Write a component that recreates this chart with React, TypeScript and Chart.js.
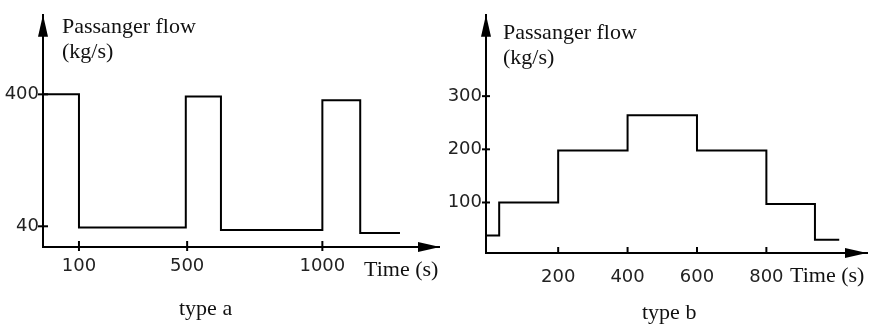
import React, { useEffect, useRef } from 'react';
import { Chart, registerables } from 'chart.js';

Chart.register(...registerables);

// ---- data: type a ----
const timeA = [-33, 100, 495, 625, 1000, 1140, 1287];
const flowA = [400, 37, 394, 30, 384, 22, 22];
const xTicksA = [100, 500, 1000];
const yTicksA = [40, 400];

// ---- data: type b ----
const timeB = [-8, 30, 200, 400, 600, 800, 940, 1010];
const flowB = [38, 100, 198, 264, 198, 97, 30, 30];
const xTicksB = [200, 400, 600, 800];
const yTicksB = [100, 200, 300];

const yTitle = ['Passanger flow', '(kg/s)'];
const xTitle = 'Time (s)';

const INK = '#111';
const TICK_INK = '#222';
const SERIF = '"Liberation Serif", "Times New Roman", serif';
const SANS = '"DejaVu Sans", sans-serif';

const decorPlugin = {
  id: 'decor',
  afterDraw(chart: any, _args: any, opts: any) {
    const ctx = chart.ctx;
    const area = chart.chartArea;
    const xs = chart.scales.x;
    const ys = chart.scales.y;
    ctx.save();
    ctx.strokeStyle = '#000';
    ctx.fillStyle = '#000';
    ctx.lineWidth = 2;
    // tick marks
    const axisY = area.bottom;
    const axisX = area.left;
    for (const t of xs.ticks) {
      const px = xs.getPixelForValue(t.value);
      ctx.beginPath();
      ctx.moveTo(px, axisY - opts.xTickIn);
      ctx.lineTo(px, axisY + opts.xTickOut);
      ctx.stroke();
    }
    for (const t of ys.ticks) {
      const py = ys.getPixelForValue(t.value);
      ctx.beginPath();
      ctx.moveTo(axisX - opts.yTickOut, py);
      ctx.lineTo(axisX + opts.yTickIn, py);
      ctx.stroke();
    }
    // arrows
    const L = 22, W = 5;
    ctx.beginPath();
    ctx.moveTo(axisX, area.top);
    ctx.lineTo(axisX - W, area.top + L);
    ctx.lineTo(axisX + W, area.top + L);
    ctx.closePath();
    ctx.fill();
    ctx.beginPath();
    ctx.moveTo(area.right, axisY);
    ctx.lineTo(area.right - L, axisY - W);
    ctx.lineTo(area.right - L, axisY + W);
    ctx.closePath();
    ctx.fill();
    // texts
    ctx.fillStyle = INK;
    ctx.font = '22px ' + SERIF;
    ctx.textAlign = 'left';
    ctx.textBaseline = 'alphabetic';
    ctx.fillText(yTitle[0], opts.yt[0], opts.yt[1]);
    ctx.fillText(yTitle[1], opts.yt[0], opts.yt[1] + 25);
    ctx.fillText(xTitle, opts.xt[0], opts.xt[1]);
    ctx.fillText(opts.caption, opts.cap[0], opts.cap[1]);
    ctx.restore();
  },
};

function makeConfig(
  times: number[], flows: number[], xTicks: number[], yTicks: number[],
  xr: [number, number], yr: [number, number], layout: any, deco: any
): any {
  return {
    type: 'line',
    data: {
      datasets: [
        {
          data: times.map((t, i) => ({ x: t, y: flows[i] })),
          stepped: 'before',
          borderColor: '#000',
          borderWidth: 2,
          pointRadius: 0,
          fill: false,
          clip: false,
        },
      ],
    },
    options: {
      animation: false,
      responsive: false,
      devicePixelRatio: 1,
      layout: { padding: layout.padding },
      plugins: { legend: { display: false }, tooltip: { enabled: false }, decor: deco },
      scales: {
        x: {
          type: 'linear',
          min: xr[0],
          max: xr[1],
          grid: { display: false, drawTicks: false },
          border: { display: true, color: '#000', width: 2 },
          afterBuildTicks: (s: any) => { s.ticks = xTicks.map((v) => ({ value: v })); },
          afterFit: (s: any) => { s.height = layout.xh; },
          ticks: {
            autoSkip: false, maxRotation: 0, padding: layout.xpad,
            color: TICK_INK, font: { family: SANS, size: 18 },
            callback: (v: any) => String(v),
          },
        },
        y: {
          type: 'linear',
          min: yr[0],
          max: yr[1],
          grid: { display: false, drawTicks: false },
          border: { display: true, color: '#000', width: 2 },
          afterBuildTicks: (s: any) => { s.ticks = yTicks.map((v) => ({ value: v })); },
          afterFit: (s: any) => { s.width = layout.yw; },
          ticks: {
            autoSkip: false, padding: layout.ypad,
            color: TICK_INK, font: { family: SANS, size: 18 },
            callback: (v: any) => String(v),
          },
        },
      },
    },
    plugins: [decorPlugin],
  };
}

function Panel({ config, width, left }: { config: any; width: number; left: number }) {
  const ref = useRef<HTMLCanvasElement>(null);
  useEffect(() => {
    if (!ref.current) return;
    const c = new Chart(ref.current, config);
    return () => c.destroy();
  }, []);
  return (
    <canvas
      ref={ref}
      width={width}
      height={325}
      style={{ position: 'absolute', left, top: 0, width, height: 325 }}
    />
  );
}

const configA = makeConfig(
  timeA, flowA, xTicksA, yTicksA, [-33, 1435], [-16.5, 617],
  { padding: { top: 8, right: 0, left: 0, bottom: 0 }, xh: 78, yw: 43, xpad: 9, ypad: 4 },
  { xTickIn: 6, xTickOut: 4, yTickIn: 5, yTickOut: 5, yt: [62, 33], xt: [364, 276], cap: [179, 315], caption: 'type a' }
);

const configB = makeConfig(
  timeB, flowB, xTicksB, yTicksB, [-8, 1090], [5, 453],
  { padding: { top: 13, right: 8, left: 0, bottom: 0 }, xh: 72, yw: 46, xpad: 14, ypad: 4 },
  { xTickIn: 6, xTickOut: 0, yTickIn: 4, yTickOut: 4, yt: [63, 39], xt: [350, 282], cap: [202, 319], caption: 'type b' }
);

export default function App() {
  return (
    <div style={{ position: 'fixed', left: 0, top: 0, width: 875, height: 325, background: '#fff' }}>
      <Panel config={configA} width={440} left={0} />
      <Panel config={configB} width={435} left={440} />
    </div>
  );
}
